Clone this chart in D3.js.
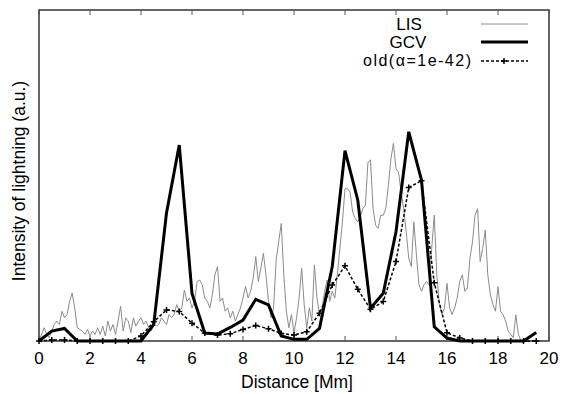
<!DOCTYPE html>
<html>
<head>
<meta charset="utf-8">
<script src="https://cdn.jsdelivr.net/npm/d3@7"></script>
<style>
body{margin:0;background:#fff;}
text{font-family:"Liberation Sans",Arial,sans-serif;fill:#000;}
</style>
</head>
<body>
<script>
var w=569;
var h=394;

// x positions of the model series (Mm)
var gcvX=d3.range(0,19.51,0.5);
var gcv=[0,0.03,0.038,0,0,0,0,0,0,0.05,0.387,0.592,0.144,0.024,0.021,0.041,0.063,0.126,0.109,0.015,
         0.005,0.005,0.038,0.225,0.575,0.426,0.099,0.144,0.33,0.632,0.486,0.043,0.009,0,0,0,0,0,0,0.026];
var old=[0,0.003,0.003,0,0,0,0,0,0.015,0.058,0.094,0.089,0.054,0.024,0.018,0.022,0.035,0.047,0.037,0.023,
         0.018,0.028,0.084,0.169,0.227,0.156,0.096,0.119,0.24,0.464,0.484,0.176,0.025,0.009,0,0,0,0,0,0];

// LIS observation, every 0.1 Mm
var lisX=d3.range(0,19.01,0.1);
var lis=[0,0.02,0.04,0.02,0.01,0.03,0.05,0.06,0.05,0.09,
         0.07,0.08,0.12,0.145,0.10,0.04,0.035,0.03,0.02,0.035,
         0.015,0.03,0.02,0.04,0.02,0.045,0.015,0.06,0.03,0.05,
         0.02,0.06,0.105,0.03,0.07,0.06,0.025,0.07,0.045,0.06,
         0.07,0.05,0.06,0.04,0.03,0.05,0.045,0.05,0.07,0.06,
         0.05,0.08,0.07,0.08,0.11,0.09,0.10,0.154,0.12,0.13,
         0.10,0.12,0.18,0.184,0.17,0.13,0.12,0.10,0.14,0.20,
         0.225,0.12,0.13,0.09,0.10,0.07,0.09,0.06,0.08,0.10,
         0.13,0.165,0.13,0.15,0.19,0.255,0.18,0.22,0.265,0.20,
         0.12,0.07,0.10,0.245,0.30,0.355,0.20,0.09,0.04,0.08,
         0.025,0.07,0.13,0.22,0.11,0.04,0.10,0.06,0.23,0.13,
         0.08,0.10,0.15,0.184,0.12,0.15,0.13,0.20,0.28,0.36,
         0.46,0.46,0.45,0.39,0.37,0.36,0.376,0.40,0.41,0.54,
         0.547,0.40,0.35,0.34,0.38,0.38,0.40,0.47,0.55,0.597,
         0.52,0.51,0.45,0.40,0.33,0.25,0.225,0.36,0.26,0.17,
         0.15,0.17,0.18,0.17,0.28,0.38,0.20,0.11,0.08,0.10,
         0.174,0.10,0.08,0.10,0.13,0.18,0.20,0.15,0.16,0.25,
         0.30,0.38,0.40,0.24,0.28,0.335,0.20,0.14,0.11,0.09,
         0.164,0.09,0.08,0.06,0.03,0.02,0.01,0.079,0.02,0,
         0];

var xTicks=d3.range(0,21,2);
var legendNames=["LIS","GCV","old(α=1e-42)"];

var mLeft=39,mRight=549,mTop=10,mBottom=341;

var x=d3.scaleLinear().domain([0,20]).range([mLeft,mRight]);
var y=d3.scaleLinear().domain([0,1]).range([mBottom,mTop]);

var svg=d3.select("body").append("svg")
    .attr("width",w)
    .attr("height",h);

// frame
svg.append("rect")
   .attr("x",mLeft).attr("y",mTop)
   .attr("width",mRight-mLeft).attr("height",mBottom-mTop)
   .attr("fill","none")
   .attr("stroke","#333")
   .attr("stroke-width",1.5);

// ticks on bottom and top, pointing inward
svg.selectAll(".tb").data(xTicks).enter().append("line")
   .attr("x1",d=>x(d)).attr("x2",d=>x(d))
   .attr("y1",mBottom).attr("y2",mBottom-5)
   .attr("stroke","#555");
svg.selectAll(".tt").data(xTicks).enter().append("line")
   .attr("x1",d=>x(d)).attr("x2",d=>x(d))
   .attr("y1",mTop).attr("y2",mTop+5)
   .attr("stroke","#555");

svg.selectAll(".tl").data(xTicks).enter().append("text")
   .attr("x",d=>x(d)).attr("y",364)
   .attr("text-anchor","middle")
   .style("font-size","17px")
   .text(d=>d);

svg.append("text")
   .attr("x",297).attr("y",388)
   .attr("text-anchor","middle")
   .style("font-size","17.5px")
   .text("Distance [Mm]");

svg.append("text")
   .attr("transform","translate(25,181) rotate(-90)")
   .attr("text-anchor","middle")
   .style("font-size","17.5px")
   .text("Intensity of lightning (a.u.)");

var line=d3.line().x(d=>x(d[0])).y(d=>y(d[1]));

svg.append("path")
   .attr("d",line(d3.zip(lisX,lis)))
   .attr("fill","none")
   .attr("stroke","#8c8c8c")
   .attr("stroke-width",1);

svg.append("path")
   .attr("d",line(d3.zip(gcvX,old)))
   .attr("fill","none")
   .attr("stroke","#000")
   .attr("stroke-width",1.5)
   .attr("stroke-dasharray","3,2");

svg.selectAll(".mk").data(d3.zip(gcvX,old)).enter().append("path")
   .attr("d",d=>"M"+(x(d[0])-3)+","+y(d[1])+"h6M"+x(d[0])+","+(y(d[1])-3)+"v6")
   .attr("stroke","#000")
   .attr("stroke-width",1.5);

svg.append("path")
   .attr("d",line(d3.zip(gcvX,gcv)))
   .attr("fill","none")
   .attr("stroke","#000")
   .attr("stroke-width",3)
   .attr("stroke-linejoin","miter");

// legend
var ly=[24,42,61];
svg.append("text").attr("x",409).attr("y",ly[0]+6).attr("text-anchor","middle").style("font-size","17px").text(legendNames[0]);
svg.append("text").attr("x",408).attr("y",ly[1]+6).attr("text-anchor","middle").style("font-size","17px").text(legendNames[1]);
svg.append("text").attr("x",471).attr("y",ly[2]+5).attr("text-anchor","end").style("font-size","16px")
   .attr("textLength",108).attr("lengthAdjust","spacing").text(legendNames[2]);

svg.append("line").attr("x1",481).attr("x2",528).attr("y1",ly[0]).attr("y2",ly[0]).attr("stroke","#8c8c8c").attr("stroke-width",1);
svg.append("line").attr("x1",481).attr("x2",528).attr("y1",ly[1]).attr("y2",ly[1]).attr("stroke","#000").attr("stroke-width",3);
svg.append("line").attr("x1",481).attr("x2",528).attr("y1",ly[2]).attr("y2",ly[2]).attr("stroke","#000").attr("stroke-width",1.5).attr("stroke-dasharray","3,2");
svg.append("path").attr("d","M501,"+ly[2]+"h6M504,"+(ly[2]-3)+"v6").attr("stroke","#000").attr("stroke-width",1.5);
</script>
</body>
</html>
